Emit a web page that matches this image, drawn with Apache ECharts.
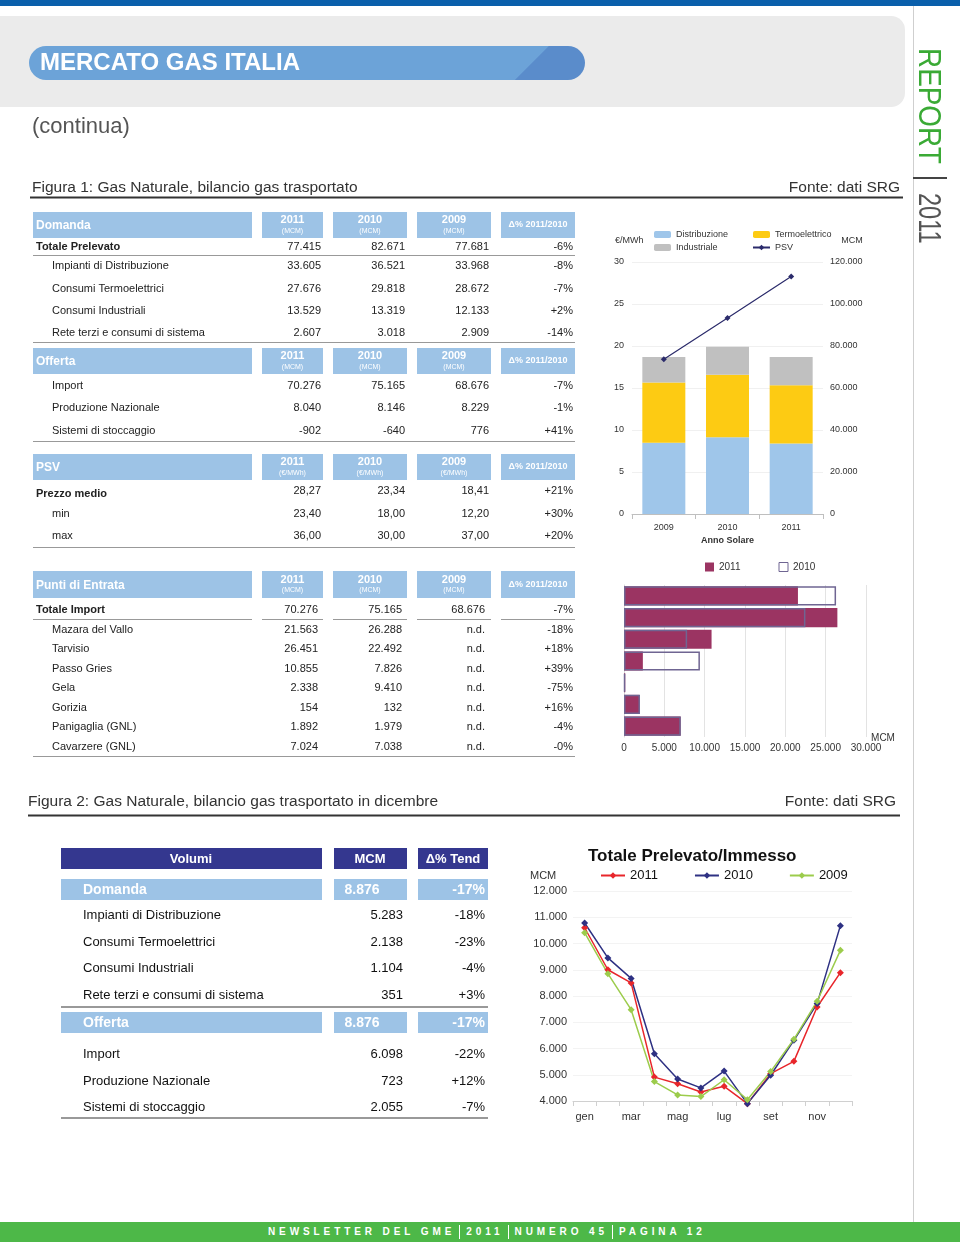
<!DOCTYPE html>
<html><head><meta charset="utf-8">
<script src="https://cdn.jsdelivr.net/npm/echarts@6/dist/echarts.min.js"></script>
<style>
html,body{margin:0;padding:0;background:#fff;}
#c{width:960px;height:1242px;position:absolute;left:0;top:0;}
#foot{position:absolute;left:0;top:1222px;width:960px;height:20px;background:#4db848;color:#fff;font:bold 10px 'Liberation Sans',Arial,sans-serif;letter-spacing:3.9px;line-height:20px;white-space:nowrap;box-sizing:border-box;padding-left:268px;}
#foot .sep{display:inline-block;width:0;height:14px;border-left:1px solid #fff;vertical-align:middle;margin:0 6px 0 4px;}
</style></head>
<body>
<div id="c"></div>
<div id="foot">NEWSLETTER DEL GME<span class="sep"></span>2011<span class="sep"></span>NUMERO 45<span class="sep"></span>PAGINA 12</div>
<script>
// ---------- DATA ----------
const tabYears = ['2011', '2010', '2009'];
const domandaLabels = ['Totale Prelevato', 'Impianti di Distribuzione', 'Consumi Termoelettrici', 'Consumi Industriali', 'Rete terzi e consumi di sistema'];
const domanda2011 = [77415, 33605, 27676, 13529, 2607];
const domanda2010 = [82671, 36521, 29818, 13319, 3018];
const domanda2009 = [77681, 33968, 28672, 12133, 2909];
const domandaDelta = ['-6%', '-8%', '-7%', '+2%', '-14%'];
const offertaLabels = ['Import', 'Produzione Nazionale', 'Sistemi di stoccaggio'];
const offerta2011 = [70276, 8040, -902];
const offerta2010 = [75165, 8146, -640];
const offerta2009 = [68676, 8229, 776];
const offertaDelta = ['-7%', '-1%', '+41%'];
const psvLabels = ['Prezzo medio', 'min', 'max'];
const psv2011 = [28.27, 23.40, 36.00];
const psv2010 = [23.34, 18.00, 30.00];
const psv2009 = [18.41, 12.20, 37.00];
const psvDelta = ['+21%', '+30%', '+20%'];
const importTotLabel = 'Totale Import';
const importTot = [70276, 75165, 68676];
const importTotDelta = '-7%';
const puntiLabels = ['Mazara del Vallo', 'Tarvisio', 'Passo Gries', 'Gela', 'Gorizia', 'Panigaglia (GNL)', 'Cavarzere (GNL)'];
const punti2011 = [21563, 26451, 10855, 2338, 154, 1892, 7024];
const punti2010 = [26288, 22492, 7826, 9410, 132, 1979, 7038];
const punti2009 = ['n.d.', 'n.d.', 'n.d.', 'n.d.', 'n.d.', 'n.d.', 'n.d.'];
const puntiDelta = ['-18%', '+18%', '+39%', '-75%', '+16%', '-4%', '-0%'];

const annoCats = ['2009', '2010', '2011'];
const distribuzione = [33968, 36521, 33605];
const termoelettrico = [28672, 29818, 27676];
const industriale = [12133, 13319, 13529];
const psvPrezzo = [18.41, 23.34, 28.27];
const leftTicks = [0, 30, 5];
const rightTicks = [0, 120000, 20000];

const mesi = ['gen', 'feb', 'mar', 'apr', 'mag', 'giu', 'lug', 'ago', 'set', 'ott', 'nov', 'dic'];
const tot2011 = [10600, 9000, 8500, 4910, 4660, 4340, 4560, 3900, 5040, 5510, 7580, 8890];
const tot2010 = [10780, 9450, 8670, 5800, 4840, 4500, 5140, 3900, 4980, 6310, 7710, 10680];
const tot2009 = [10410, 8850, 7480, 4740, 4230, 4170, 4810, 4050, 5120, 6350, 7800, 9740];

const volDomTot = 8876, volDomTotDelta = '-17%';
const volDomLabels = ['Impianti di Distribuzione', 'Consumi Termoelettrici', 'Consumi Industriali', 'Rete terzi e consumi di sistema'];
const volDomMCM = [5283, 2138, 1104, 351];
const volDomDelta = ['-18%', '-23%', '-4%', '+3%'];
const volOffTot = 8876, volOffTotDelta = '-17%';
const volOffLabels = ['Import', 'Produzione Nazionale', 'Sistemi di stoccaggio'];
const volOffMCM = [6098, 723, 2055];
const volOffDelta = ['-22%', '+12%', '-7%'];

// ---------- HELPERS ----------
const FONT = "'Liberation Sans', Arial, sans-serif";
const LB = '#9dc3e6';
const NAVY = '#34378f';
function fmt(n) { if (typeof n !== 'number') return n; return String(n).replace(/\B(?=(\d{3})+(?!\d))/g, '.'); }
function fmtDec(n) { return n.toFixed(2).replace('.', ','); }
const G = [];
function rect(x, y, w, h, fill, r) { G.push({ type: 'rect', silent: true, shape: { x, y, width: w, height: h, r: r || 0 }, style: { fill } }); }
function line(x1, y1, x2, y2, stroke, lw) { G.push({ type: 'line', silent: true, shape: { x1, y1, x2, y2 }, style: { stroke, lineWidth: lw || 1 } }); }
function text(x, y, t, o) {
  o = o || {};
  const al = o.align || 'left';
  G.push({ type: 'text', silent: true, x, y, rotation: o.rot || 0, scaleX: o.sx || 1, scaleY: o.sy || 1,
    style: { text: t, fill: o.fill || '#222', font: (o.weight || 'normal') + ' ' + (o.size || 11) + 'px ' + (o.family || FONT),
      align: al, textAlign: al, verticalAlign: o.valign || 'middle', textVerticalAlign: o.valign || 'middle' } });
}

// ---------- PAGE DECOR ----------
rect(0, 0, 960, 6, '#0a5fab');
line(913.5, 6, 913.5, 1222, '#cfcfcf', 1);
rect(0, 16, 905, 91, '#ebebeb', [0, 14, 14, 0]);
G.push({ type: 'rect', silent: true, shape: { x: 29, y: 46, width: 556, height: 34, r: 17 },
  style: { fill: { type: 'linear', global: true, x: 514, y: 80, x2: 524, y2: 90, colorStops: [
    { offset: 0, color: '#6ca3d8' }, { offset: 0.08, color: '#5a8ccb' }, { offset: 1, color: '#5a8ccb' }] } } });
text(40, 63, 'MERCATO GAS ITALIA', { fill: '#fff', weight: 'bold', size: 24 });
text(32, 127, '(continua)', { fill: '#555', size: 22 });
text(32, 188, 'Figura 1: Gas Naturale, bilancio gas trasportato', { fill: '#333', size: 15.5 });
text(900, 188, 'Fonte: dati SRG', { fill: '#333', size: 15.5, align: 'right' });
line(30, 197.5, 903, 197.5, '#333', 2);
// vertical REPORT | 2011
text(928, 48, 'REPORT', { fill: '#3aaa35', size: 31, rot: -Math.PI / 2, sx: 0.9 });
line(913, 178, 947, 178, '#444', 2);
text(928, 193, '2011', { fill: '#555', size: 31, rot: -Math.PI / 2, sx: 0.76 });

// ---------- FIGURE 1 TABLES ----------
const hdrBoxes = [[262, 61], [333, 74], [417, 74], [501, 74]];
const numRight = [321, 405, 489, 573];
const numRight2 = [318, 402, 485, 573];
function tableHeader(y, h, label, unit) {
  rect(33, y, 219, h, LB);
  text(36, y + h / 2 + 1, label, { fill: '#fff', weight: 'bold', size: 12 });
  tabYears.forEach((yr, i) => {
    const [bx, bw] = hdrBoxes[i];
    rect(bx, y, bw, h, LB);
    text(bx + bw / 2, y + h / 2 - 5, yr, { fill: '#fff', weight: 'bold', size: 11, align: 'center' });
    text(bx + bw / 2, y + h / 2 + 6, unit, { fill: '#fff', size: 7, align: 'center' });
  });
  const [dx, dw] = hdrBoxes[3];
  rect(dx, y, dw, h, LB);
  text(dx + dw / 2, y + h / 2, 'Δ% 2011/2010', { fill: '#fff', weight: 'bold', size: 9, align: 'center' });
}
function tableRow(y, label, vals, bold, rights, ly) {
  text(bold ? 36 : 52, ly || y, label, { weight: bold ? 'bold' : 'normal', size: 11 });
  vals.forEach((v, i) => text(rights[i], y, v, { align: 'right', size: 11 }));
}
// Domanda
tableHeader(212, 26, 'Domanda', '(MCM)');
const domY = [247, 266, 289, 311, 333];
domandaLabels.forEach((l, i) => tableRow(domY[i], l, [fmt(domanda2011[i]), fmt(domanda2010[i]), fmt(domanda2009[i]), domandaDelta[i]], i === 0, numRight));
line(33, 255.5, 575, 255.5, '#999', 1);
line(33, 342.5, 575, 342.5, '#999', 1);
// Offerta
tableHeader(348, 26, 'Offerta', '(MCM)');
const offY = [386, 408, 431];
offertaLabels.forEach((l, i) => tableRow(offY[i], l, [fmt(offerta2011[i]), fmt(offerta2010[i]), fmt(offerta2009[i]), offertaDelta[i]], false, numRight));
line(33, 441.5, 575, 441.5, '#999', 1);
// PSV
tableHeader(454, 26, 'PSV', '(€/MWh)');
const psvY = [491, 514, 536];
psvLabels.forEach((l, i) => tableRow(psvY[i], l, [fmtDec(psv2011[i]), fmtDec(psv2010[i]), fmtDec(psv2009[i]), psvDelta[i]], i === 0, numRight, i === 0 ? 494 : null));
line(33, 547.5, 575, 547.5, '#999', 1);
// Punti di Entrata
tableHeader(571, 27, 'Punti di Entrata', '(MCM)');
tableRow(610, importTotLabel, [fmt(importTot[0]), fmt(importTot[1]), fmt(importTot[2]), importTotDelta], true, numRight2);
[[33, 252], [262, 323], [333, 407], [417, 491], [501, 575]].forEach(s => line(s[0], 619.5, s[1], 619.5, '#999', 1));
const puntiY = [630, 649, 669, 688, 708, 727, 747];
puntiLabels.forEach((l, i) => tableRow(puntiY[i], l, [fmt(punti2011[i]), fmt(punti2010[i]), punti2009[i], puntiDelta[i]], false, numRight2));
line(33, 756.5, 575, 756.5, '#999', 1);

// chart text labels
text(615, 241, '€/MWh', { size: 9, fill: '#333' });
text(852, 241, 'MCM', { size: 9, fill: '#333', align: 'center' });
text(883, 738, 'MCM', { size: 10, fill: '#333', align: 'center' });
text(530, 876, 'MCM', { size: 11, fill: '#333' });

// ---------- FIGURE 2 ----------
text(28, 802, 'Figura 2: Gas Naturale, bilancio gas trasportato in dicembre', { fill: '#333', size: 15.5 });
text(896, 802, 'Fonte: dati SRG', { fill: '#333', size: 15.5, align: 'right' });
line(28, 815.5, 900, 815.5, '#333', 2);
// volumi table
rect(61, 848, 261, 21, NAVY); rect(334, 848, 73, 21, NAVY); rect(418, 848, 70, 21, NAVY);
text(191, 859, 'Volumi', { fill: '#fff', weight: 'bold', size: 13, align: 'center' });
text(370, 859, 'MCM', { fill: '#fff', weight: 'bold', size: 13, align: 'center' });
text(453, 859, 'Δ% Tend', { fill: '#fff', weight: 'bold', size: 13, align: 'center' });
function volHeader(y, label, tot, delta) {
  rect(61, y, 261, 21, LB); rect(334, y, 73, 21, LB); rect(418, y, 70, 21, LB);
  text(83, y + 11, label, { fill: '#fff', weight: 'bold', size: 14 });
  text(362, y + 11, fmt(tot), { fill: '#fff', weight: 'bold', size: 14, align: 'center' });
  text(485, y + 11, delta, { fill: '#fff', weight: 'bold', size: 14, align: 'right' });
}
function volRow(y, label, v, d) {
  text(83, y, label, { size: 13, fill: '#111' });
  text(403, y, fmt(v), { size: 13, fill: '#111', align: 'right' });
  text(485, y, d, { size: 13, fill: '#111', align: 'right' });
}
volHeader(879, 'Domanda', volDomTot, volDomTotDelta);
const vdY = [915, 942, 968, 995];
volDomLabels.forEach((l, i) => volRow(vdY[i], l, volDomMCM[i], volDomDelta[i]));
line(61, 1007, 488, 1007, '#999', 2);
volHeader(1012, 'Offerta', volOffTot, volOffTotDelta);
const voY = [1054, 1081, 1107];
volOffLabels.forEach((l, i) => volRow(voY[i], l, volOffMCM[i], volOffDelta[i]));
line(61, 1118, 488, 1118, '#999', 2);

// ---------- CHART ----------
const chart = echarts.init(document.getElementById('c'), null, { renderer: 'canvas' });
const axTxt = { color: '#333', fontFamily: FONT };
chart.setOption({
  animation: false,
  textStyle: { fontFamily: FONT },
  graphic: { elements: G },
  title: { text: 'Totale Prelevato/Immesso', left: 588, top: 848, padding: 0,
    textStyle: { fontSize: 17, fontWeight: 'bold', color: '#111', fontFamily: FONT } },
  legend: [
    { data: ['Distribuzione', 'Industriale'], orient: 'vertical', left: 654, top: 230, padding: 0, itemGap: 4, itemWidth: 17, itemHeight: 7,
      textStyle: { fontSize: 9, color: '#333', fontFamily: FONT } },
    { data: ['Termoelettrico', 'PSV'], orient: 'vertical', left: 752, top: 230, padding: 0, itemGap: 4, itemWidth: 17, itemHeight: 7,
      textStyle: { fontSize: 9, color: '#333', fontFamily: FONT } },
    { data: [{ name: '2011', icon: 'rect', itemStyle: { color: '#9b3462', borderWidth: 0 } },
             { name: '2010', icon: 'rect', itemStyle: { color: '#ffffff', borderColor: '#6f6592', borderWidth: 1 } }],
      left: 705, top: 562, padding: 0, itemGap: 38, itemWidth: 9, itemHeight: 9,
      textStyle: { fontSize: 10, color: '#333', fontFamily: FONT } },
    { data: ['2011', '2010', '2009'], left: 600, top: 869, padding: 0, itemGap: 36, itemWidth: 24, itemHeight: 8,
      textStyle: { fontSize: 13, color: '#111', fontFamily: FONT } }
  ],
  grid: [
    { left: 632, top: 262, width: 191, height: 252 },
    { left: 624, top: 585, width: 242, height: 152 },
    { left: 573, top: 891, width: 279, height: 210 }
  ],
  xAxis: [
    { gridIndex: 0, type: 'category', data: annoCats, axisLine: { lineStyle: { color: '#bfbfbf' } },
      axisTick: { show: true, lineStyle: { color: '#bfbfbf' } }, axisLabel: Object.assign({ fontSize: 9, margin: 9 }, axTxt),
      name: 'Anno Solare', nameLocation: 'middle', nameGap: 22, nameTextStyle: { fontSize: 9, fontWeight: 'bold', color: '#333', fontFamily: FONT } },
    { gridIndex: 1, type: 'value', min: 0, max: 30000, interval: 5000, axisLine: { show: false }, axisTick: { show: false },
      splitLine: { lineStyle: { color: '#e3e3e3' } }, axisLabel: Object.assign({ fontSize: 10, margin: 6, formatter: v => fmt(v) }, axTxt) },
    { gridIndex: 2, type: 'category', data: mesi, boundaryGap: true, axisLine: { lineStyle: { color: '#d0d0d0' } },
      axisTick: { show: true, interval: 0, lineStyle: { color: '#d0d0d0' } }, axisLabel: Object.assign({ fontSize: 11, margin: 10, interval: 1 }, axTxt) }
  ],
  yAxis: [
    { gridIndex: 0, type: 'value', position: 'left', min: leftTicks[0], max: leftTicks[1], interval: leftTicks[2], axisLine: { show: false }, axisTick: { show: false },
      splitLine: { lineStyle: { color: '#f0f0f0' } }, axisLabel: Object.assign({ fontSize: 9, margin: 8 }, axTxt) },
    { gridIndex: 0, type: 'value', position: 'right', min: rightTicks[0], max: rightTicks[1], interval: rightTicks[2], axisLine: { show: false }, axisTick: { show: false },
      splitLine: { show: false }, axisLabel: Object.assign({ fontSize: 9, margin: 7, formatter: v => fmt(v) }, axTxt) },
    { gridIndex: 1, type: 'category', data: puntiLabels, inverse: true, axisLabel: { show: false }, axisTick: { show: false },
      axisLine: { show: true, lineStyle: { color: '#d9d9d9' } } },
    { gridIndex: 2, type: 'value', min: 4000, max: 12000, interval: 1000, axisLine: { show: false }, axisTick: { show: false },
      splitLine: { lineStyle: { color: '#f3f3f3' } }, axisLabel: Object.assign({ fontSize: 11, margin: 6, formatter: v => fmt(v) }, axTxt) }
  ],
  series: [
    { name: '2011', type: 'line', xAxisIndex: 2, yAxisIndex: 3, data: tot2011, clip: false, symbol: 'diamond', symbolSize: 7,
      itemStyle: { color: '#e8262b' }, lineStyle: { color: '#e8262b', width: 1.5 } },
    { name: '2010', type: 'line', xAxisIndex: 2, yAxisIndex: 3, data: tot2010, clip: false, symbol: 'diamond', symbolSize: 7,
      itemStyle: { color: '#2e3183' }, lineStyle: { color: '#2e3183', width: 1.5 } },
    { name: '2009', type: 'line', xAxisIndex: 2, yAxisIndex: 3, data: tot2009, clip: false, symbol: 'diamond', symbolSize: 7,
      itemStyle: { color: '#9ccc4c' }, lineStyle: { color: '#9ccc4c', width: 1.5 } },
    { name: 'Distribuzione', type: 'bar', stack: 'tot', xAxisIndex: 0, yAxisIndex: 1, data: distribuzione, barWidth: 43, itemStyle: { color: '#9fc6ea' } },
    { name: 'Termoelettrico', type: 'bar', stack: 'tot', xAxisIndex: 0, yAxisIndex: 1, data: termoelettrico, barWidth: 43, itemStyle: { color: '#fdcb13' } },
    { name: 'Industriale', type: 'bar', stack: 'tot', xAxisIndex: 0, yAxisIndex: 1, data: industriale, barWidth: 43, itemStyle: { color: '#c0c0c0' } },
    { name: 'PSV', type: 'line', xAxisIndex: 0, yAxisIndex: 0, data: psvPrezzo, symbol: 'diamond', symbolSize: 6, z: 5,
      itemStyle: { color: '#2b2b6b' }, lineStyle: { color: '#2b2b6b', width: 1.2 } },
    { name: '2011', type: 'bar', xAxisIndex: 1, yAxisIndex: 2, data: punti2011, barGap: '-100%', barCategoryGap: '12%',
      itemStyle: { color: '#9b3462' } },
    { name: '2010', type: 'bar', xAxisIndex: 1, yAxisIndex: 2, data: punti2010, barGap: '-100%', barCategoryGap: '12%', z: 3,
      itemStyle: { color: 'rgba(255,255,255,0)', borderColor: '#6f6592', borderWidth: 1.5 } }
  ]
});
</script>
</body></html>
